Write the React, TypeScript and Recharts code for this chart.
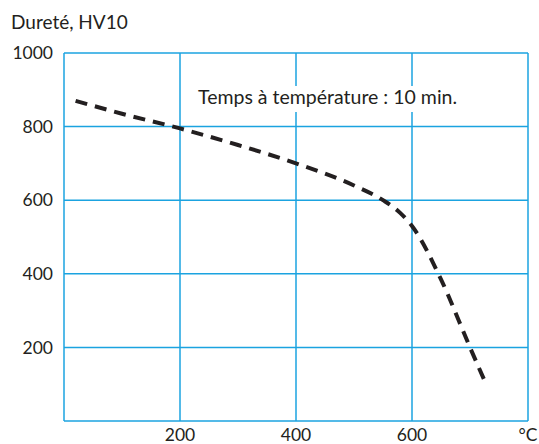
import React from 'react';
import { LineChart, Line, XAxis, YAxis, CartesianGrid, Customized } from 'recharts';

const temps = [20, 100, 200, 300, 400, 500, 550, 580, 600, 650, 700, 725];
const hardness = [870, 835, 795, 750, 700, 640, 600, 565, 530, 385, 200, 110];
const xTicks = [200, 400, 600, 800];
const yTicks = [200, 400, 600, 800, 1000];

const data = temps.map((t, i) => ({ t, hv: hardness[i] }));

const BLUE = '#1ba3e0';
const INK = '#231f20';
const FONT = 'Lato, "Open Sans", sans-serif';

function Texts() {
  return (
    <g fontFamily={FONT} fill={INK}>
      <text x={11} y={29} fontSize={19}>Dureté, HV10</text>
      <rect x={194} y={86} width={268} height={26} fill="#fff" />
      <text x={198} y={104} fontSize={19.5}>Temps à température : 10 min.</text>
    </g>
  );
}

export default function App() {
  return (
    <div style={{ position: 'absolute', left: 0, top: 0, background: '#fff' }}>
      <LineChart width={539} height={444} data={data} margin={{ top: 53, right: 11, left: 0, bottom: 0 }}>
        <CartesianGrid stroke={BLUE} strokeWidth={1.5} horizontalValues={yTicks} verticalValues={xTicks} />
        <XAxis
          dataKey="t"
          type="number"
          domain={[0, 800]}
          ticks={xTicks}
          height={23}
          tickSize={0}
          tickMargin={8}
          axisLine={{ stroke: BLUE, strokeWidth: 1.5 }}
          tickLine={false}
          tick={{ fill: INK, fontSize: 17.5, fontFamily: FONT }}
          tickFormatter={(v: number) => (v === 800 ? '°C' : String(v))}
        />
        <YAxis
          type="number"
          domain={[0, 1000]}
          ticks={yTicks}
          width={64}
          tickSize={0}
          tickMargin={11}
          axisLine={{ stroke: BLUE, strokeWidth: 1.5 }}
          tickLine={false}
          tick={{ fill: INK, fontSize: 17.5, fontFamily: FONT }}
        />
        <Customized component={Texts} />
        <Line
          dataKey="hv"
          type="monotone"
          stroke={INK}
          strokeWidth={4}
          strokeDasharray="12 8"
          dot={false}
          isAnimationActive={false}
        />
      </LineChart>
    </div>
  );
}
